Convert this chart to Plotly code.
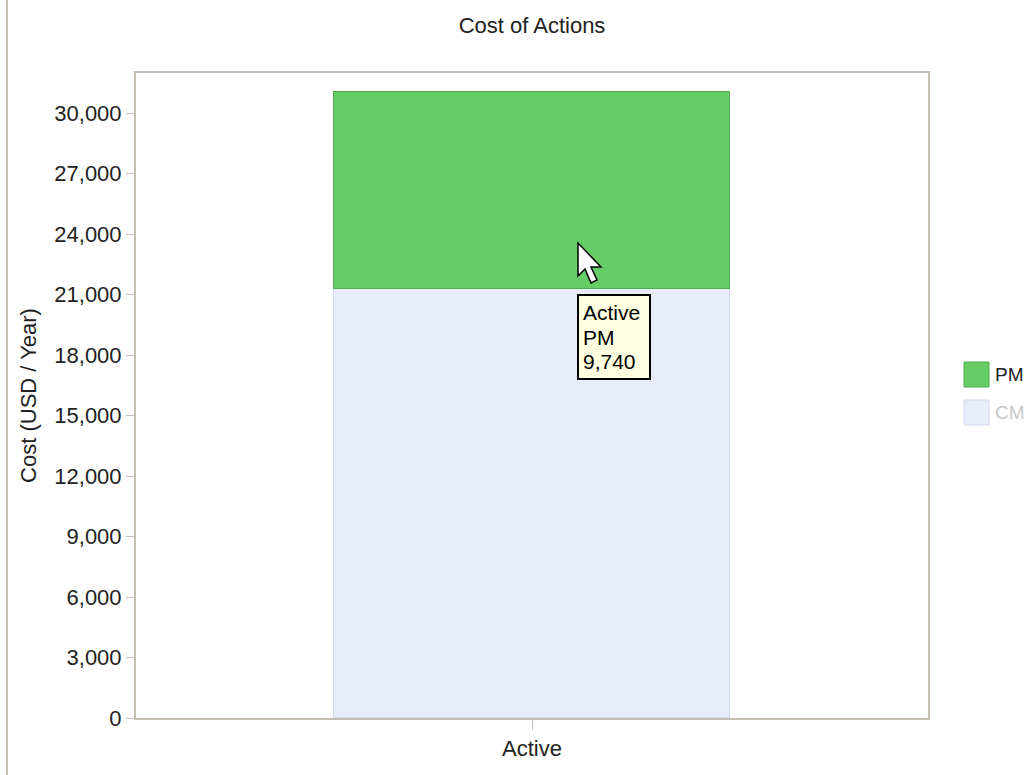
import plotly.graph_objects as go

categories = ["Active"]
series_names = ["CM", "PM"]
cm_values = [21300]
pm_values = [9740]
tooltip_series = "PM"

CM_COLOR, CM_LINE = "#E8ECF8", "#D3DAEE"
PM_COLOR, PM_LINE = "#66CC66", "#4EAE4E"

fig = go.Figure()
fig.add_trace(go.Bar(
    x=categories, y=cm_values, name=series_names[0],
    marker=dict(color=CM_COLOR, line=dict(color=CM_LINE, width=1)),
    width=0.5, showlegend=False,
))
fig.add_trace(go.Bar(
    x=categories, y=pm_values, name=series_names[1],
    marker=dict(color=PM_COLOR, line=dict(color=PM_LINE, width=1)),
    width=0.5, showlegend=False,
))

L, T, W, H = 136, 73, 792, 645
FW, FH = 1025, 775
axis_col = "#C4C1B4"
FS = 22

fig.update_layout(
    barmode="stack",
    width=FW, height=FH,
    margin=dict(l=L, r=FW - L - W, t=T, b=FH - T - H),
    paper_bgcolor="white", plot_bgcolor="white",
    font=dict(family="Liberation Sans, Arial, sans-serif", size=FS, color="#222222"),
    title=dict(text="Cost of Actions", x=(L + W / 2) / FW, xanchor="center",
               y=1 - 25 / FH, yanchor="middle", font=dict(size=FS)),
    showlegend=False,
    bargap=0,
)
fig.update_yaxes(
    range=[0, 32000], tickvals=list(range(0, 30001, 3000)), tickformat=",d",
    showgrid=False, zeroline=False, showline=True, linecolor=axis_col, linewidth=2,
    mirror=True, ticks="outside", ticklen=8, tickcolor=axis_col,
    title=dict(text="Cost (USD / Year)", standoff=12, font=dict(size=FS)),
)
fig.update_xaxes(
    showgrid=False, showline=True, linecolor=axis_col, linewidth=2, mirror=True,
    ticks="outside", ticklen=10, tickcolor=axis_col,
)


def px(x):
    return (x - L) / W


def py(y):
    return (T + H - y) / H


# left decorative border line of the panel
fig.add_shape(type="line", xref="paper", yref="paper",
              x0=px(7), x1=px(7), y0=py(0), y1=py(FH),
              line=dict(color="#C4C1B4", width=2))

# manual legend (large swatches)
legend_items = [(series_names[1], PM_COLOR, PM_LINE, "#222222", 362),
                (series_names[0], CM_COLOR, CM_LINE, "#C8C8C8", 400)]
for name, fc, lc, tc, top in legend_items:
    fig.add_shape(type="rect", xref="paper", yref="paper",
                  x0=px(964), x1=px(989), y0=py(top), y1=py(top + 25),
                  fillcolor=fc, line=dict(color=lc, width=1))
    fig.add_annotation(xref="paper", yref="paper", x=px(993), y=py(top + 12.5),
                       xanchor="left", yanchor="middle", showarrow=False,
                       text=name, font=dict(size=19, color=tc))

# tooltip box and lines
fig.add_shape(type="rect", xref="paper", yref="paper",
              x0=px(578), x1=px(650), y0=py(295), y1=py(379),
              fillcolor="#FFFFE1", line=dict(color="black", width=2))
tip_lines = [categories[0], tooltip_series, f"{pm_values[0]:,}"]
for i, line in enumerate(tip_lines):
    fig.add_annotation(xref="paper", yref="paper", x=px(581), y=py(312 + 25 * i),
                       xanchor="left", yanchor="middle", showarrow=False,
                       text=line, font=dict(size=21, color="black"))

# mouse cursor arrow
pts = [(578, 243), (578, 276), (585, 269), (591, 283), (597, 280), (591, 267), (601, 267)]
path = "M " + " L ".join(f"{px(x)},{py(y)}" for x, y in pts) + " Z"
fig.add_shape(type="path", xref="paper", yref="paper", path=path,
              fillcolor="white", line=dict(color="black", width=1.5))

fig.write_html("out.html", config={"displayModeBar": False},
               post_script="document.body.style.margin='0';document.body.style.overflow='hidden';")
